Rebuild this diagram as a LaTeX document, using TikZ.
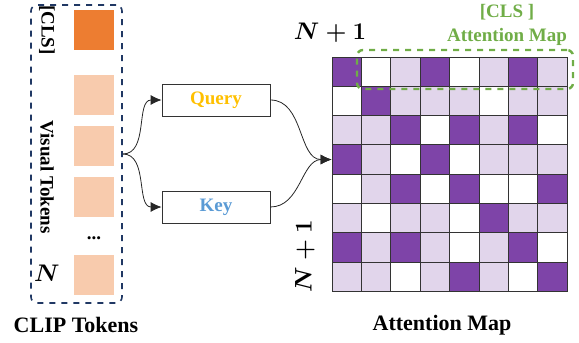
\documentclass[tikz,border=0pt]{standalone}
\usepackage{xcolor}
\usepackage{amsmath}
\usepackage{fontspec}
\setmainfont{Liberation Serif}
\usepackage{tikz}
\usetikzlibrary{arrows.meta, positioning, calc}
\definecolor{clsorange}{HTML}{ED7D31}
\definecolor{tokpeach}{HTML}{F8CBAD}
\definecolor{panelnavy}{HTML}{203864}
\definecolor{clsgreen}{HTML}{70AD47}
\definecolor{querygold}{HTML}{FFC000}
\definecolor{keyblue}{HTML}{5B9BD5}
\definecolor{attD}{HTML}{7E44A8}
\definecolor{attL}{HTML}{E1D5EB}
\definecolor{attW}{HTML}{FFFFFF}
\newcommand{\labfont}{\bfseries\fontsize{9.5}{12}\selectfont}
\newcommand{\capfont}{\bfseries\fontsize{11}{13}\selectfont}

\begin{document}
\begin{tikzpicture}[
    x=0.5pt, y=-0.5pt,
    tok/.style={rectangle, fill=#1, minimum size=20pt, inner sep=0pt},
    projbox/.style={rectangle, draw=black!80, minimum width=54pt, minimum height=16pt, font=\labfont},
    cell/.style={rectangle, draw=black!80, fill=#1, minimum size=14.7pt, inner sep=0pt},
    flow/.style={-{Latex[length=5.5pt,width=5pt]}, black!85, thin},
]
\useasboundingbox (0,0) rectangle (579,343);

% CLIP tokens column
\node[rectangle, draw=panelnavy, dashed, thick, rounded corners=3pt, minimum width=45.5pt, minimum height=149pt] (clip) at (76.5,154) {};
\node[tok=clsorange] (cls) at (94,30) {};
\node[tok=tokpeach] (v1) at (94,95) {};
\node[tok=tokpeach] (v2) at (94,146) {};
\node[tok=tokpeach] (v3) at (94,197) {};
\node[font=\labfont] (vdots) at (94,238) {...};
\node[tok=tokpeach] (vN) at (94,275) {};

\node[font=\labfont, rotate=-90] (clslab) at (47,30) {[CLS]};
\node[font=\labfont, rotate=-90] (vislab) at (47,177) {Visual Tokens};
\node[font=\large\boldmath] (nlab) at (47,273) {$N$};
\node[font=\capfont] (cliplab) at (76,325) {CLIP Tokens};

% query / key
\node[projbox] (query) at (216,100) {\textcolor{querygold}{Query}};
\node[projbox] (key) at (216,207) {\textcolor{keyblue}{Key}};

% attention map
\foreach \row [count=\r] in {
    {D,W,L,D,W,L,D,L},
    {W,D,L,L,L,W,L,L},
    {L,L,D,W,D,L,D,W},
    {D,L,W,D,W,L,L,L},
    {W,L,D,W,D,W,W,D},
    {L,W,L,L,W,D,L,L},
    {D,L,D,L,W,L,D,W},
    {L,L,W,L,D,L,W,D}} {
  \foreach \v [count=\c] in \row {
    \node[cell=att\v] (m-\r-\c) at ({332+29.4*(\c-0.5)},{57+29.3*(\r-0.5)}) {};
  }
}

\node[font=\large\boldmath] (toplab) at (330,33) {$N+1$};
\node[font=\large\boldmath, rotate=90] (sidelab) at (305,256) {$N+1$};

\node[rectangle, draw=clsgreen, dashed, very thick, rounded corners=3pt, minimum width=108pt, minimum height=19.5pt] (clsrow) at (465,69.5) {};
\node[font=\labfont, text=clsgreen, align=center] (clsmap) at (507,25) {[CLS ]\\Attention Map};

\node[font=\capfont] (attlab) at (442,325) {Attention Map};

% connectors
\coordinate (fork) at (clip.east);
\draw[flow] (fork) to[out=0, in=180] (query.west);
\draw[flow] (fork) to[out=0, in=180] (key.west);
\draw[flow] (query.east) to[out=0, in=180] (m-4-1.west);
\draw[flow] (key.east) to[out=0, in=180] (m-4-1.west);
\end{tikzpicture}
\end{document}
